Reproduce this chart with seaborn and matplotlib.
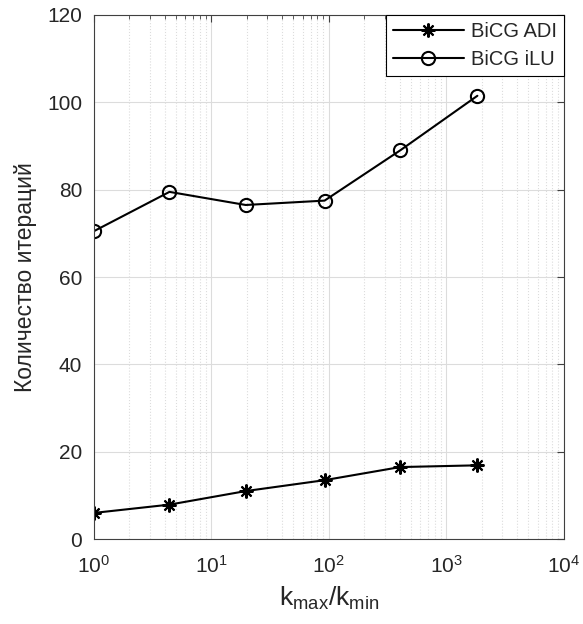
import numpy as np
import pandas as pd
import matplotlib
matplotlib.use('Agg')
import matplotlib.pyplot as plt
import seaborn as sns

# данные
k_ratio = [1, 4.4, 19.6, 92, 405, 1840]
iters_adi = [6, 7.9, 11, 13.5, 16.5, 16.9]
iters_ilu = [70.5, 79.5, 76.5, 77.5, 89, 101.5]
series_names = ['BiCG ADI', 'BiCG iLU']

sns.set_style('whitegrid')
plt.rcParams['font.family'] = ['Liberation Sans', 'DejaVu Sans']

fig = plt.figure(figsize=(5.83, 6.24), dpi=100)
ax = fig.add_axes([0.161, 0.136, 0.806, 0.840])

# ADI: звёздочки
sns.lineplot(x=k_ratio, y=iters_adi, ax=ax, color='black', linewidth=1.5,
             marker=(8, 2, 0), markersize=10, markeredgewidth=1.5,
             markeredgecolor='black', label=series_names[0])
# iLU: кружки
sns.lineplot(x=k_ratio, y=iters_ilu, ax=ax, color='black', linewidth=1.5,
             marker='o', markersize=9.5, markerfacecolor='none',
             markeredgewidth=1.5, markeredgecolor='black', label=series_names[1])

ax.set_xscale('log')
ax.set_xlim(1, 1e4)
ax.set_ylim(0, 120)
ax.set_yticks([0, 20, 40, 60, 80, 100, 120])
ax.grid(True, which='major', color='#dcdcdc', linewidth=0.8, linestyle='-')
ax.grid(True, which='minor', axis='x', color='#dcdcdc', linewidth=0.8, linestyle=':')
ax.tick_params(which='both', direction='in', top=True, right=True, colors='#404040',
               labelcolor='#262626', labelsize=15)
ax.tick_params(axis='y', pad=8.5)
ax.tick_params(axis='x', pad=11)
ax.tick_params(which='major', length=5)
ax.tick_params(which='minor', length=3)
for s in ax.spines.values():
    s.set_color('#404040')
    s.set_linewidth(0.8)

ax.set_xlabel('$\\mathregular{k_{max}/k_{min}}$', fontsize=19, color='#262626', labelpad=6)
ax.set_ylabel('Количество итераций', fontsize=16.5, color='#262626', labelpad=7)

leg = ax.legend(loc='upper right', fontsize=14.5, frameon=True, fancybox=False,
                edgecolor='black', framealpha=1, borderaxespad=0,
                handlelength=3.5, handletextpad=0.35, borderpad=0.35, labelspacing=0.45)
leg.get_frame().set_linewidth(0.8)

fig.savefig('out.png', dpi=100)
